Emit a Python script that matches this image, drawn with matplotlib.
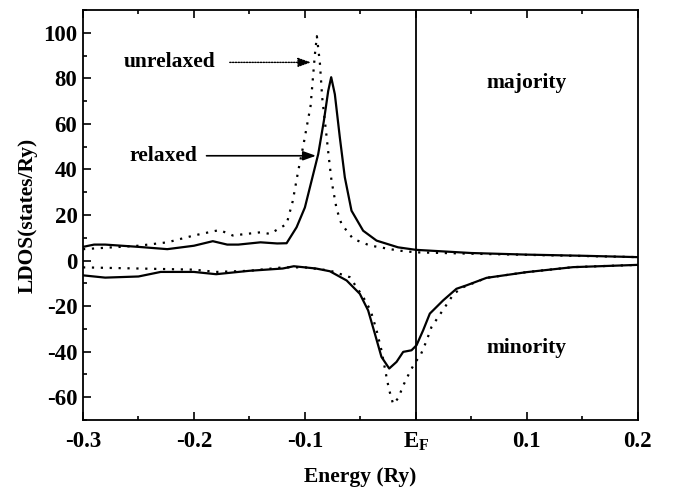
import numpy as np
import matplotlib.pyplot as plt
from matplotlib.ticker import MultipleLocator

plt.rcParams['font.family'] = 'Liberation Serif'
plt.rcParams['font.weight'] = 'bold'
plt.rcParams['mathtext.fontset'] = 'custom'
plt.rcParams['mathtext.bf'] = 'Liberation Serif:bold'
plt.rcParams['mathtext.rm'] = 'Liberation Serif:bold'
plt.rcParams['axes.unicode_minus'] = False

# majority, relaxed (solid)
e_maj_rel = [-0.3, -0.29, -0.28, -0.25, -0.224, -0.2, -0.183, -0.17, -0.16, -0.14, -0.125,
             -0.1165, -0.1075, -0.1, -0.094, -0.088, -0.0829, -0.079, -0.0763,
             -0.073, -0.0685, -0.064, -0.058, -0.0475, -0.0354, -0.016, 0.0,
             0.05, 0.1, 0.15, 0.2]
d_maj_rel = [6.0, 7.0, 7.0, 6.0, 5.0, 6.5, 8.5, 7.0, 7.0, 8.0, 7.5,
             7.6, 14.6, 23.3, 35.0, 46.7, 61.3, 74.4, 80.5,
             73.0, 54.0, 36.5, 21.9, 13.1, 8.75, 5.8, 4.7,
             3.3, 2.6, 2.1, 1.5]

# majority, unrelaxed (dotted)
e_maj_unr = [-0.3, -0.25, -0.224, -0.2, -0.177, -0.165, -0.14, -0.1315, -0.1165,
             -0.111, -0.106, -0.1015, -0.0985, -0.0949, -0.091, -0.0892, -0.0865,
             -0.0844, -0.081, -0.0786, -0.076, -0.0714, -0.067, -0.0565, -0.0414,
             -0.016, 0.0, 0.05, 0.1, 0.15, 0.2]
d_maj_unr = [5.0, 6.5, 8.0, 11.0, 13.4, 11.0, 12.4, 11.7, 16.0,
             26.0, 39.4, 50.3, 58.3, 67.8, 90.4, 98.5, 86.8,
             71.5, 56.9, 46.0, 35.0, 22.6, 16.0, 9.5, 6.6,
             4.4, 3.6, 3.0, 2.5, 2.0, 1.5]

# minority, relaxed (solid)
e_min_rel = [-0.3, -0.28, -0.25, -0.23, -0.2, -0.18, -0.15, -0.12, -0.11, -0.09,
             -0.0775, -0.0624, -0.0505, -0.043, -0.037, -0.031, -0.024, -0.0174,
             -0.0114, -0.0039, 0.0006, 0.0066, 0.0126, 0.0246, 0.0366, 0.0456,
             0.0637, 0.0997, 0.1417, 0.2]
d_min_rel = [-6.5, -7.5, -7.0, -5.0, -5.0, -6.0, -4.5, -3.5, -2.5, -3.5,
             -4.7, -8.75, -14.6, -21.9, -32.0, -42.3, -47.4, -44.5,
             -40.1, -39.4, -37.2, -30.6, -23.3, -17.5, -12.4, -10.9,
             -7.6, -5.1, -2.9, -1.9]

# minority, unrelaxed (dotted)
e_min_unr = [-0.3, -0.25, -0.2, -0.18, -0.15, -0.12, -0.1, -0.0775, -0.0595,
             -0.0475, -0.0408, -0.0354, -0.031, -0.0259, -0.024, -0.0205, -0.016,
             -0.0108, -0.0054, -0.0009, 0.0042, 0.0096, 0.0141, 0.0192, 0.0246,
             0.0342, 0.0426, 0.0637, 0.0997, 0.1417, 0.2]
d_min_unr = [-3.0, -3.5, -4.0, -5.0, -4.5, -3.0, -3.0, -4.4, -7.3,
             -16.0, -21.9, -30.6, -39.4, -52.5, -56.9, -63.0, -60.5,
             -54.3, -48.9, -44.9, -41.6, -35.3, -29.2, -25.5, -21.6,
             -14.6, -11.7, -7.6, -5.1, -2.9, -1.9]

xticks = [-0.3, -0.2, -0.1, 0.0, 0.1, 0.2]
xticklabels = ['-0.3', '-0.2', '-0.1', r'$\mathbf{E_F}$', '0.1', '0.2']
yticks = [-60, -40, -20, 0, 20, 40, 60, 80, 100]

fig = plt.figure(figsize=(6.77, 4.9), dpi=100)
ax = fig.add_axes([0.1226, 0.1429, 0.8194, 0.8367])

dot = (0, (1, 3))
ax.plot(e_maj_rel, d_maj_rel, color='black', lw=1.6)
ax.plot(e_maj_unr, d_maj_unr, color='black', lw=1.6, linestyle=dot)
ax.plot(e_min_rel, d_min_rel, color='black', lw=1.6)
ax.plot(e_min_unr, d_min_unr, color='black', lw=1.6, linestyle=dot)
ax.axvline(0.0, color='black', lw=1.3)

# Pfeile mit kleinen gefuellten Spitzen
ax.annotate('unrelaxed', xy=(-0.0946, 87), xytext=(-0.2216, 87), fontsize=15.5,
            ha='center', va='center',
            arrowprops=dict(arrowstyle='-|>,head_length=0.5,head_width=0.18',
                            color='black', lw=1.0, linestyle=(0, (1, 1)),
                            shrinkA=8, shrinkB=0))
ax.annotate('relaxed', xy=(-0.09, 46), xytext=(-0.228, 46), fontsize=15.5,
            ha='center', va='center',
            arrowprops=dict(arrowstyle='-|>,head_length=0.5,head_width=0.18',
                            color='black', lw=1.2, shrinkA=5, shrinkB=0))
ax.text(0.1, 78, 'majority', fontsize=15.5, ha='center', va='center')
ax.text(0.1, -38.5, 'minority', fontsize=15.5, ha='center', va='center')

ax.set_xlim(-0.3, 0.2)
ax.set_ylim(-70, 110)
ax.set_xticks(xticks)
ax.set_xticklabels(xticklabels)
ax.set_yticks(yticks)
ax.xaxis.set_minor_locator(MultipleLocator(0.05))
ax.yaxis.set_minor_locator(MultipleLocator(10))
ax.tick_params(axis='both', which='both', direction='in', labelsize=16.5, top=True, right=False)
ax.tick_params(which='major', length=6, width=1.2)
ax.tick_params(which='minor', length=3, width=1.2)
ax.tick_params(axis='x', which='major', pad=8)
ax.tick_params(axis='y', which='major', pad=4)
for s in ax.spines.values():
    s.set_linewidth(1.3)

ax.set_xlabel('Energy (Ry)', fontsize=15.5, fontweight='bold', labelpad=10)
ax.set_ylabel('LDOS(states/Ry)', fontsize=15.5, fontweight='bold', labelpad=4)

fig.savefig('out.png', dpi=100)
